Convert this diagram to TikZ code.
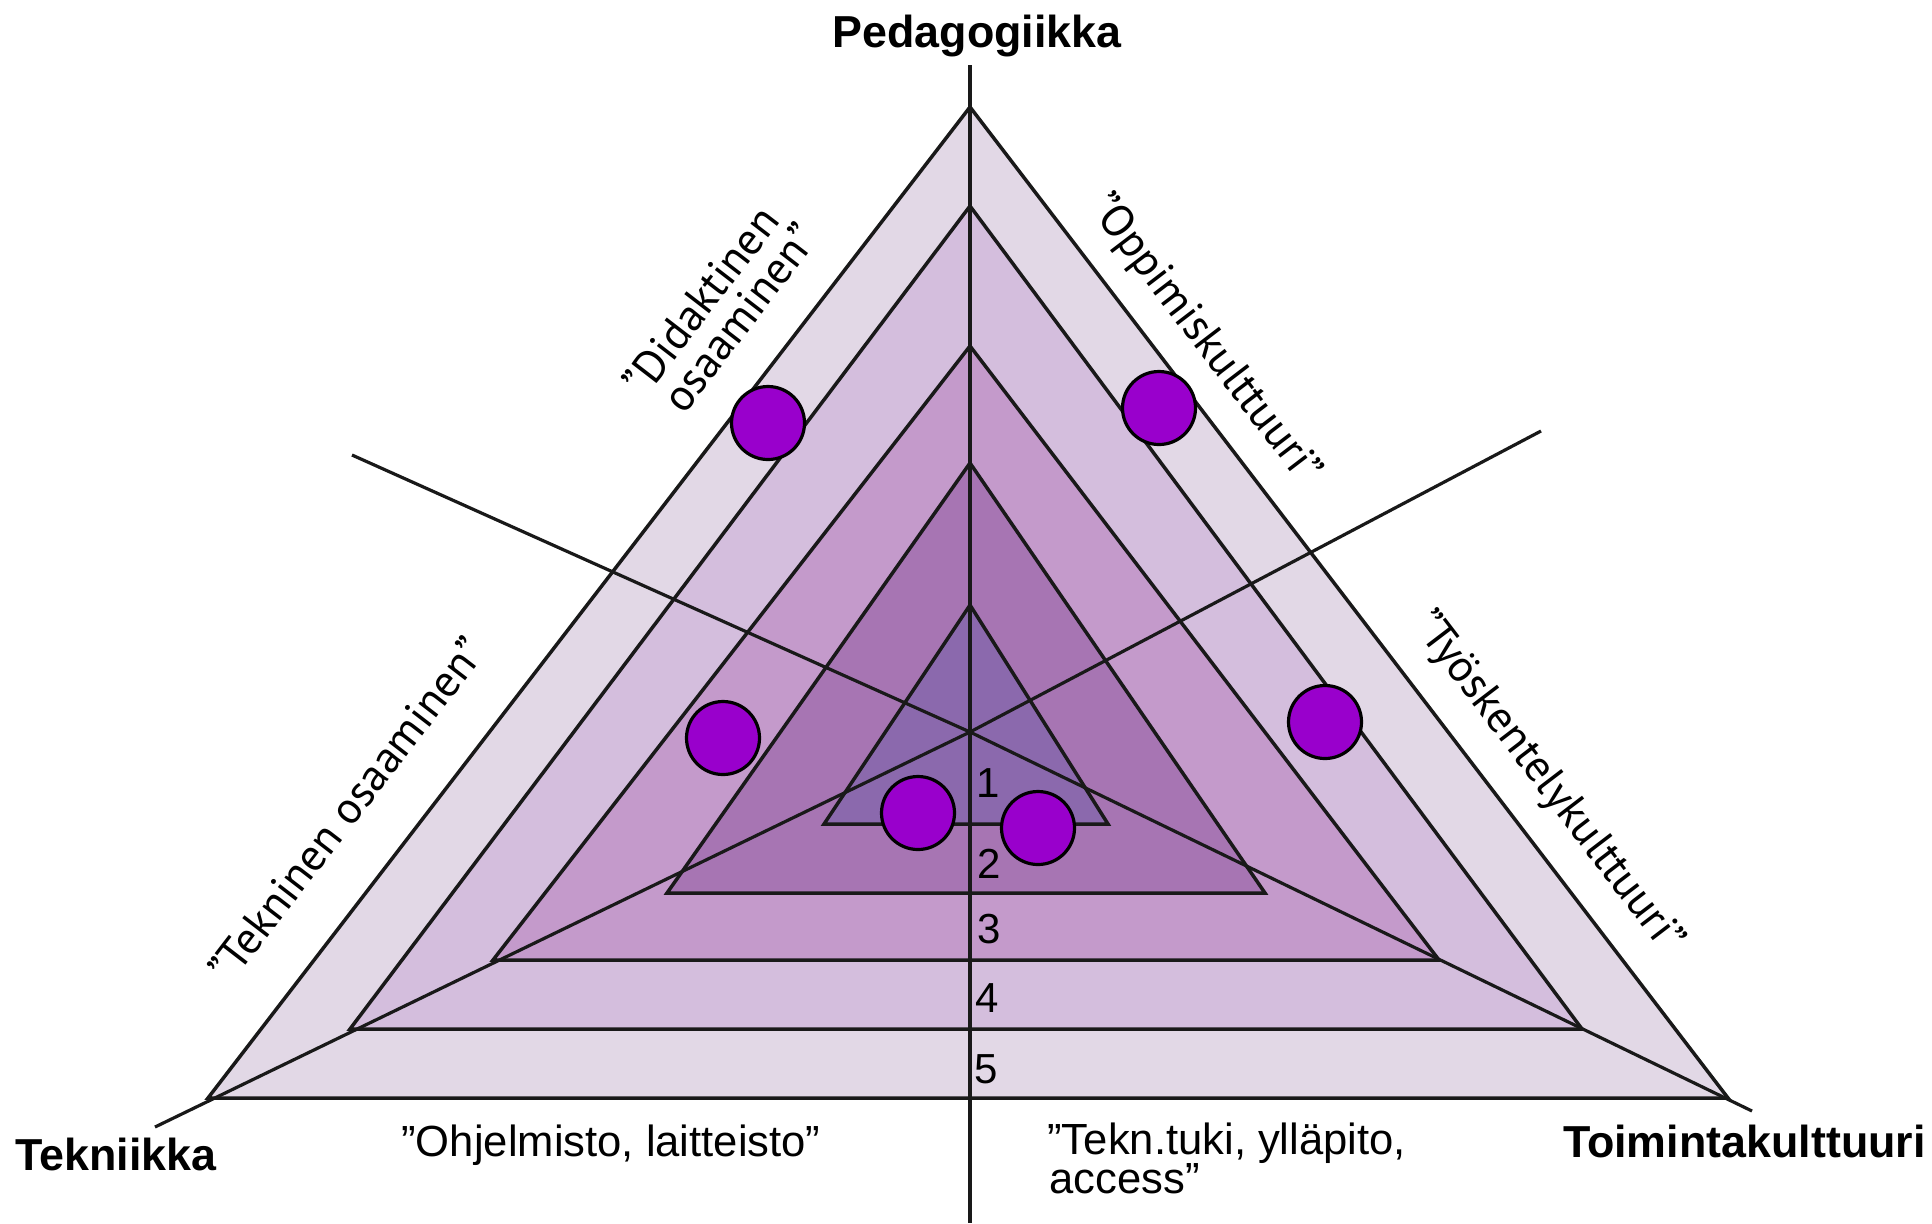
\documentclass[tikz,border=0pt]{standalone}
\usepackage{fontspec}
\setmainfont{Liberation Sans}
\newfontfamily\rotfont{PT Sans}
\definecolor{bandE}{HTML}{E2D8E6}
\definecolor{bandD}{HTML}{D4BEDD}
\definecolor{bandC}{HTML}{C49ACB}
\definecolor{bandB}{HTML}{A775B3}
\definecolor{bandA}{HTML}{8B69AD}
\definecolor{dotc}{HTML}{9900CC}
\begin{document}
\begin{tikzpicture}[x=0.5pt,y=-0.5pt,
  edge/.style={draw=black!90, line width=1.75pt, line join=miter},
  axis/.style={draw=black!90, line width=1.6pt},
  dot/.style={circle, draw=black, line width=1.6pt, fill=dotc, inner sep=0pt, minimum size=36.5pt},
  corner/.style={inner sep=0pt, font=\bfseries\fontsize{22.4}{26}\selectfont},
  plain/.style={inner sep=0pt, font=\fontsize{21.8}{26}\selectfont},
  rotlab/.style={inner sep=0pt, font=\rotfont\fontsize{22.4}{26}\selectfont},
  num/.style={inner sep=0pt, anchor=base, font=\fontsize{21}{24}\selectfont}]
\useasboundingbox (0,0) rectangle (1932,1223);
% coordinates
\coordinate (A5) at (970,107);  \coordinate (L5) at (208,1098); \coordinate (R5) at (1728,1098);
\coordinate (A4) at (970,206);  \coordinate (L4) at (350,1029); \coordinate (R4) at (1582,1029);
\coordinate (A3) at (970,346);  \coordinate (L3) at (493,960);  \coordinate (R3) at (1439,960);
\coordinate (A2) at (970,463);  \coordinate (L2) at (667,893);  \coordinate (R2) at (1265,893);
\coordinate (A1) at (970,605);  \coordinate (L1) at (824,824);  \coordinate (R1) at (1108,824);
\coordinate (ctr) at (970,732);
\coordinate (vtop) at (970,65); \coordinate (vbot) at (970,1223);
\coordinate (llo) at (155,1127); \coordinate (rup) at (1541,431);
\coordinate (rlo) at (1752,1111); \coordinate (lup) at (352,455);
% bands
\filldraw[edge, fill=bandE] (A5) -- (L5) -- (R5) -- cycle;
\filldraw[edge, fill=bandD] (A4) -- (L4) -- (R4) -- cycle;
\filldraw[edge, fill=bandC] (A3) -- (L3) -- (R3) -- cycle;
\filldraw[edge, fill=bandB] (A2) -- (L2) -- (R2) -- cycle;
\filldraw[edge, fill=bandA] (A1) -- (L1) -- (R1) -- cycle;
% axes
\draw[axis] (vtop) -- (vbot);
\draw[axis] (llo) -- (ctr) -- (rup);
\draw[axis] (rlo) -- (ctr) -- (lup);
% level numbers
\node[num] (n1) at (988,797) {1};
\node[num] (n2) at (989,878) {2};
\node[num] (n3) at (989,943) {3};
\node[num] (n4) at (987,1012) {4};
\node[num] (n5) at (986,1083) {5};
% dots
\node[dot] (d1) at (768,423) {};
\node[dot] (d2) at (1159,408) {};
\node[dot] (d3) at (723,738) {};
\node[dot] (d4) at (1325,722) {};
\node[dot] (d5) at (918,813) {};
\node[dot] (d6) at (1038,828) {};
% corner labels
\node[corner, anchor=base] (ped) at (977,47) {Pedagogiikka};
\node[corner, anchor=base west] (tek) at (15,1170) {Tekniikka};
\node[corner, anchor=base east] (toi) at (1926,1157) {Toimintakulttuuri};
% bottom labels
\node[plain, anchor=base] (ohj) at (611,1156) {”Ohjelmisto, laitteisto”};
\node[plain, anchor=base west] (tuki1) at (1047,1154) {”Tekn.tuki, ylläpito,};
\node[plain, anchor=base west] (tuki2) at (1049,1193) {access”};
% side labels
\node[rotlab, rotate=52.4, anchor=base] (did1) at (713,310) {”Didaktinen};
\node[rotlab, rotate=52.4, anchor=base] (did2) at (752,327) {osaaminen”};
\node[rotlab, rotate=52.4, anchor=base] (tekos) at (359,819) {”Tekninen osaaminen”};
\node[rotlab, rotate=-52.6, anchor=base] (opp) at (1195,347) {”Oppimiskulttuuri”};
\node[rotlab, rotate=-52.6, anchor=base] (tyo) at (1538,790) {”Työskentelykulttuuri”};
\end{tikzpicture}
\end{document}
